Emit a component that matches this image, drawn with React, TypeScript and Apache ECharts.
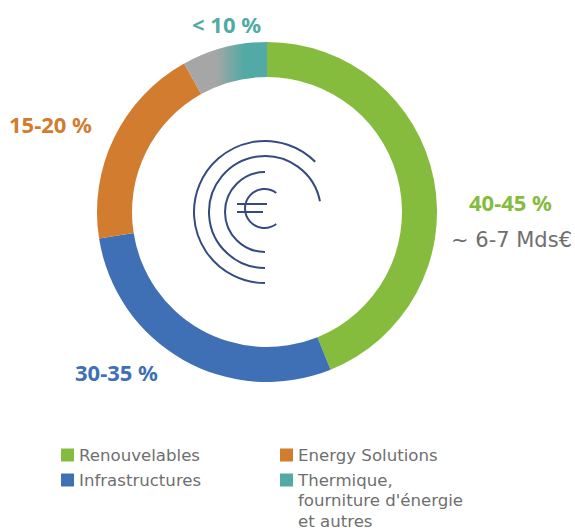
import React, { useEffect, useRef } from "react";
import * as echarts from "echarts";

const categories = ["Renouvelables", "Infrastructures", "Energy Solutions", "Thermique,"];
const shares = [43.9, 28.6, 19.4, 8.1];
const shareLabels = ["40-45 %", "30-35 %", "15-20 %", "< 10 %"];
const amountLabel = "~ 6-7 Mds€";
const continuation = "fourniture d'énergie\net autres";

const GREEN = "#86bc3d";
const BLUE = "#3f70b6";
const ORANGE = "#d27c2f";
const TEAL = "#52aaa6";
const GREY = "#a6a6a6";
const NAVY = "#344a80";
const TXT = "#6f6f6f";
const FONT = "'Noto Sans', sans-serif";
const LIGHT = "'DejaVu Sans', sans-serif";

const rad = (d: number) => (d * Math.PI) / 180;
const ring = (cx: number, cy: number, r: number, a: number, b: number) => ({
  type: "arc",
  shape: { cx, cy, r, startAngle: rad(a), endAngle: rad(b), clockwise: true },
  style: { stroke: NAVY, lineWidth: 2, fill: "none" },
  silent: true,
});
const bar = (x1: number, x2: number, y: number) => ({
  type: "line",
  shape: { x1, y1: y, x2, y2: y },
  style: { stroke: NAVY, lineWidth: 2 },
  silent: true,
});
const bold = (text: string, x: number, y: number, fill: string) => ({
  type: "text",
  x,
  y,
  style: { text, fill, font: `bold 22px ${FONT}`, textAlign: "left", textVerticalAlign: "middle" },
  silent: true,
});
const legendAt = (i: number, left: number, top: number, color: string) => ({
  left,
  top,
  orient: "vertical",
  icon: "rect",
  itemWidth: 13,
  itemHeight: 13,
  itemGap: 0,
  selectedMode: false,
  data: [{ name: categories[i], itemStyle: { color } }],
  textStyle: { color: TXT, fontSize: 16.6, fontFamily: LIGHT, lineHeight: 18 },
});

export default function App() {
  const ref = useRef<HTMLDivElement>(null);
  useEffect(() => {
    document.body.style.margin = "0";
    const chart = echarts.init(ref.current!, undefined, { renderer: "svg" });
    chart.setOption({
      animation: false,
      tooltip: { show: false },
      legend: [
        legendAt(0, 56, 441, GREEN),
        legendAt(2, 275, 441, ORANGE),
        legendAt(1, 56, 466, BLUE),
        legendAt(3, 275, 466, TEAL),
      ],
      series: [
        {
          type: "pie",
          center: [267, 212],
          radius: [135, 170],
          startAngle: 90,
          clockwise: true,
          label: { show: false },
          labelLine: { show: false },
          itemStyle: { borderWidth: 0 },
          emphasis: { disabled: true },
          data: [
            { name: categories[0], value: shares[0], itemStyle: { color: GREEN } },
            { name: categories[1], value: shares[1], itemStyle: { color: BLUE } },
            { name: categories[2], value: shares[2], itemStyle: { color: ORANGE } },
            {
              name: categories[3],
              value: shares[3],
              itemStyle: {
                color: {
                  type: "linear",
                  x: 0,
                  y: 0,
                  x2: 1,
                  y2: 0,
                  colorStops: [
                    { offset: 0, color: GREY },
                    { offset: 0.38, color: GREY },
                    { offset: 0.73, color: TEAL },
                    { offset: 1, color: TEAL },
                  ],
                },
              },
            },
          ],
        },
      ],
      graphic: [
        ring(265, 212, 71, 90, 315),
        ring(265, 212, 56, 90, 349),
        ring(265, 212, 40, 90, 270),
        ring(264.5, 208.5, 19.5, 53, 307),
        bar(237, 267, 204),
        bar(237, 263, 212),
        bold(shareLabels[0], 469, 202, GREEN),
        bold(shareLabels[1], 75, 372, BLUE),
        bold(shareLabels[2], 9, 124, ORANGE),
        bold(shareLabels[3], 192, 24, TEAL),
        {
          type: "text",
          x: 451,
          y: 240,
          style: { text: amountLabel, fill: TXT, font: `21px ${LIGHT}`, textAlign: "left", textVerticalAlign: "middle" },
          silent: true,
        },
        {
          type: "text",
          x: 298,
          y: 490,
          style: { text: continuation, fill: TXT, font: `16.6px ${LIGHT}`, lineHeight: 21, textAlign: "left", textVerticalAlign: "top" },
          silent: true,
        },
      ],
    });
    return () => chart.dispose();
  }, []);
  return <div ref={ref} style={{ width: 575, height: 528, overflow: "hidden" }} />;
}
